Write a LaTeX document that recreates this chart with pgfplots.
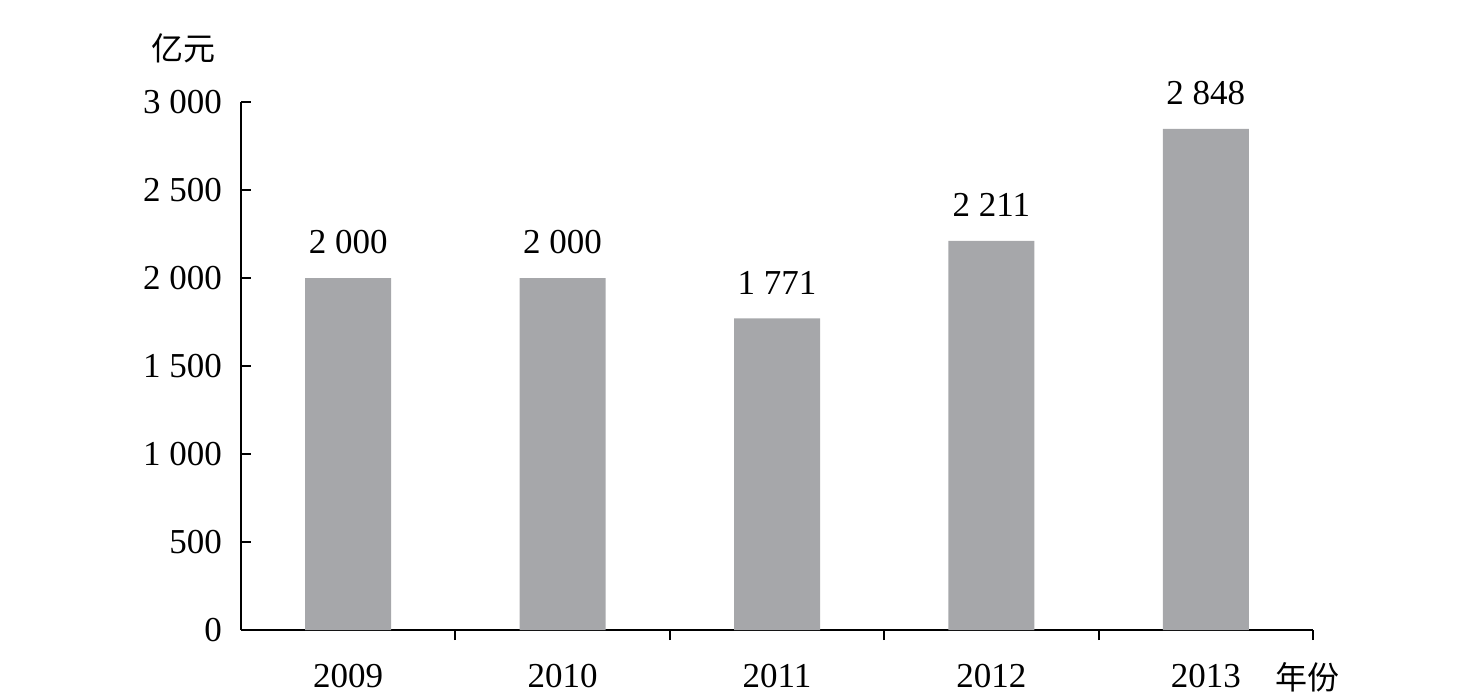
\documentclass[border=0pt]{standalone}
\usepackage{fontspec}
\setmainfont{Liberation Serif}
\newfontfamily\cjk{Noto Sans CJK SC}
\usepackage{pgfplots}
\pgfplotsset{compat=1.18}
\definecolor{bargray}{HTML}{A6A7AA}
\begin{document}
\begin{tikzpicture}
\path[use as bounding box] (0,0) rectangle (732.5pt,348.5pt);
\begin{axis}[
  at={(120.5pt,33.5pt)}, anchor=south west,
  scale only axis, width=536pt, height=264pt,
  xmin=-0.5, xmax=4.5, ymin=0, ymax=3000,
  axis lines*=left,
  axis line style={line width=1pt},
  tick style={line width=1pt, black},
  tick align=inside,
  major tick length=5pt, minor tick length=5pt,
  xtick={0,1,2,3,4},
  xticklabels={2009,2010,2011,2012,2013},
  major x tick style={draw=none},
  minor xtick={0.5,1.5,2.5,3.5,4.5},
  ytick={0,500,1000,1500,2000,2500,3000},
  /pgf/number format/.cd, 1000 sep={\ }, assume math mode=true, /pgfplots/.cd,
  tick label style={font=\fontsize{17.5}{20}\selectfont},
  xticklabel style={yshift=-8.5pt},
  yticklabel style={xshift=-6pt},
  ylabel={\cjk 亿元},
  ylabel style={at={(rel axis cs:0,1)}, anchor=center, rotate=-90, xshift=-29pt, yshift=27pt, font=\fontsize{16}{18}\selectfont},
  xlabel={\cjk 年份},
  xlabel style={at={(rel axis cs:1,0)}, anchor=center, xshift=-3pt, yshift=-23.5pt, font=\fontsize{16}{18}\selectfont},
  ybar, bar width=43pt,
  nodes near coords,
  nodes near coords style={font=\fontsize{17.5}{20}\selectfont, yshift=8.5pt},
]
\addplot[fill=bargray, draw=none] coordinates {(0,2000) (1,2000) (2,1771) (3,2211) (4,2848)};
\end{axis}
\end{tikzpicture}
\end{document}
